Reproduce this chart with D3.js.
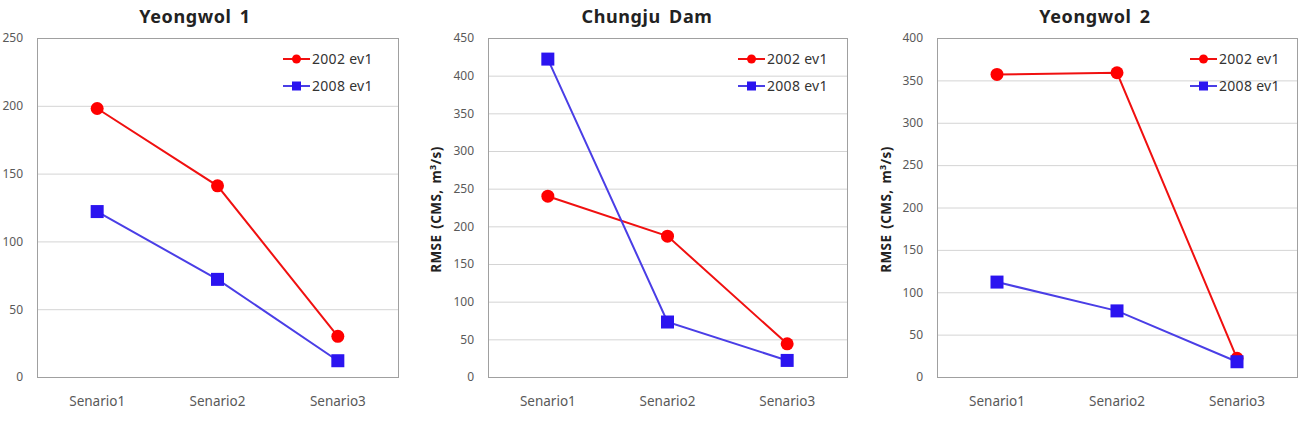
<!DOCTYPE html>
<html>
<head>
<meta charset="utf-8">
<script src="https://cdn.jsdelivr.net/npm/d3@7"></script>
<style>
  body { margin: 0; background: #fff; }
  svg text { font-family: "Noto Sans", "Open Sans", sans-serif; }
  .tick text { fill: #595959; font-size: 12px; }
  .title { font-size: 18px; font-weight: bold; fill: #222; letter-spacing: 0.6px; word-spacing: 3px; }
  .ylabel { font-size: 13.5px; font-weight: bold; fill: #222; letter-spacing: 0.4px; word-spacing: 2px; }
  .legend text { font-size: 14px; fill: #333; letter-spacing: 0.3px; }
</style>
</head>
<body>
<svg id="chart" width="1305" height="423"></svg>
<script>
var scenarios = ["Senario1", "Senario2", "Senario3"];
var seriesNames = ["2002 ev1", "2008 ev1"];

// RMSE values per site
var yeongwol1_2002 = [198, 141, 30];
var yeongwol1_2008 = [122, 72, 12];
var chungju_2002 = [240, 187, 44];
var chungju_2008 = [422, 73, 22];
var yeongwol2_2002 = [357, 359, 22];
var yeongwol2_2008 = [112, 78, 18];

var yMaxes = [250, 450, 400];
var titles = ["Yeongwol 1", "Chungju Dam", "Yeongwol 2"];

var panels = [
  {title: titles[0], yMax: yMaxes[0], series: [yeongwol1_2002, yeongwol1_2008],
   left: 37, right: 398, titleX: 195, legendX: 283, ylabelX: null},
  {title: titles[1], yMax: yMaxes[1], series: [chungju_2002, chungju_2008],
   left: 488, right: 847, titleX: 647, legendX: 738, ylabelX: 441},
  {title: titles[2], yMax: yMaxes[2], series: [yeongwol2_2002, yeongwol2_2008],
   left: 937, right: 1297, titleX: 1095, legendX: 1190, ylabelX: 891}
];

var plotTop = 38, plotBottom = 377;
var lineColors = ["#f01010", "#4a3ee6"];
var markerColors = ["#ff0000", "#2b14f0"];

var svg = d3.select("#chart");

panels.forEach(function(p) {
  var g = svg.append("g");

  var x = d3.scaleBand()
      .domain(scenarios)
      .range([p.left, p.right]);

  var y = d3.scaleLinear()
      .domain([0, p.yMax])
      .range([plotBottom, plotTop]);

  // grid lines
  g.append("g")
      .selectAll("line")
      .data(y.ticks(p.yMax / 50))
      .enter().append("line")
      .attr("x1", p.left).attr("x2", p.right)
      .attr("y1", function(d) { return y(d) + 0.5; })
      .attr("y2", function(d) { return y(d) + 0.5; })
      .attr("stroke", "#d4d4d4");

  // plot border
  g.append("rect")
      .attr("x", p.left + 0.5).attr("y", plotTop + 0.5)
      .attr("width", p.right - p.left).attr("height", plotBottom - plotTop)
      .attr("fill", "none")
      .attr("stroke", "#a0a0a0");

  var yAxis = d3.axisLeft(y)
      .ticks(p.yMax / 50)
      .tickSize(0)
      .tickPadding(14);
  g.append("g")
      .attr("class", "y axis")
      .attr("transform", "translate(" + p.left + ",0)")
      .call(yAxis)
      .call(function(s) { s.select(".domain").remove(); });

  var xAxis = d3.axisBottom(x)
      .tickSize(0)
      .tickPadding(19);
  g.append("g")
      .attr("class", "x axis")
      .attr("transform", "translate(0," + plotBottom + ")")
      .call(xAxis)
      .call(function(s) { s.select(".domain").remove(); })
      .selectAll("text").style("font-size", "13.5px");

  g.append("text")
      .attr("class", "title")
      .attr("x", p.titleX)
      .attr("y", 23)
      .attr("text-anchor", "middle")
      .text(p.title);

  if (p.ylabelX !== null) {
    var yl = g.append("text")
        .attr("class", "ylabel")
        .attr("transform", "translate(" + p.ylabelX + "," + ((plotTop + plotBottom) / 2 + 2) + ") rotate(-90)")
        .attr("text-anchor", "middle");
    yl.append("tspan").text("RMSE (CMS, m");
    yl.append("tspan").attr("dy", -5).style("font-size", "9px").text("3");
    yl.append("tspan").attr("dy", 5).text("/s)");
  }

  var line = d3.line()
      .x(function(d, i) { return x(scenarios[i]) + x.bandwidth() / 2; })
      .y(function(d) { return y(d); });

  p.series.forEach(function(vals, si) {
    g.append("path")
        .datum(vals)
        .attr("d", line)
        .attr("fill", "none")
        .attr("stroke", lineColors[si])
        .attr("stroke-width", 2);

    var pts = g.append("g").selectAll(".pt")
        .data(vals)
        .enter();
    if (si === 0) {
      pts.append("circle")
          .attr("cx", function(d, i) { return x(scenarios[i]) + x.bandwidth() / 2; })
          .attr("cy", function(d) { return y(d); })
          .attr("r", 6.5)
          .attr("fill", markerColors[si]);
    } else {
      pts.append("rect")
          .attr("x", function(d, i) { return x(scenarios[i]) + x.bandwidth() / 2 - 6.5; })
          .attr("y", function(d) { return y(d) - 6.5; })
          .attr("width", 13).attr("height", 13)
          .attr("fill", markerColors[si]);
    }
  });

  // legend
  var lg = g.append("g").attr("class", "legend");
  seriesNames.forEach(function(name, si) {
    var ly = 59 + si * 27;
    lg.append("line")
        .attr("x1", p.legendX).attr("x2", p.legendX + 27)
        .attr("y1", ly).attr("y2", ly)
        .attr("stroke", lineColors[si]).attr("stroke-width", 2);
    if (si === 0) {
      lg.append("circle").attr("cx", p.legendX + 13.5).attr("cy", ly).attr("r", 4.5)
          .attr("fill", markerColors[si]);
    } else {
      lg.append("rect").attr("x", p.legendX + 9).attr("y", ly - 4.5)
          .attr("width", 9).attr("height", 9).attr("fill", markerColors[si]);
    }
    lg.append("text")
        .attr("x", p.legendX + 29)
        .attr("y", ly)
        .attr("dy", "0.35em")
        .text(name);
  });
});
</script>
</body>
</html>
